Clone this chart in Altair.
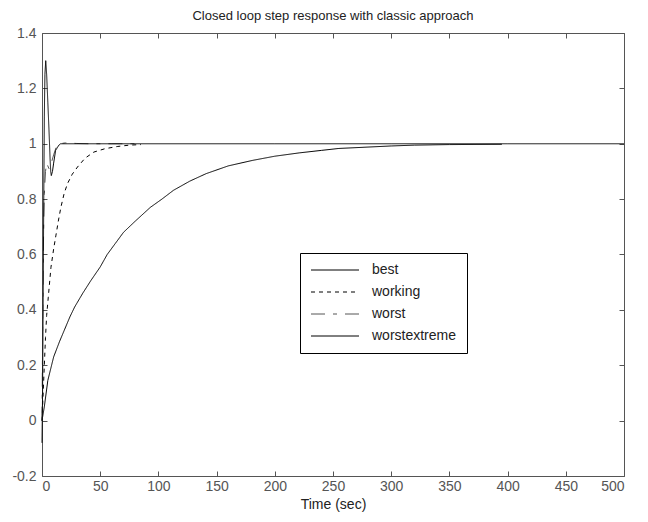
import altair as alt
import pandas as pd

series_names = ["best", "working", "worst", "worstextreme"]

best_t = [0, 2, 5, 10, 15, 19, 24, 28, 35, 42, 50, 56, 63, 70, 80, 93, 103, 113, 127, 141,
          160, 181, 200, 221, 240, 255, 280, 300, 320, 350, 395]
best_y = [0.0, 0.05, 0.145, 0.23, 0.285, 0.325, 0.375, 0.41, 0.46, 0.506, 0.555, 0.60, 0.64,
          0.68, 0.72, 0.77, 0.80, 0.832, 0.865, 0.892, 0.92, 0.94, 0.955, 0.967, 0.976, 0.983,
          0.988, 0.992, 0.995, 0.997, 0.998]

working_t = [0, 1, 2, 3, 4, 5.4, 7.7, 10, 12, 14, 16.2, 19, 21.9, 26, 30.5, 37, 44.6, 54, 64.6, 75, 85]
working_y = [0, 0.1, 0.2, 0.3, 0.38, 0.446, 0.554, 0.62, 0.67, 0.72, 0.77, 0.82, 0.856, 0.89,
             0.916, 0.948, 0.97, 0.982, 0.99, 0.995, 0.997]

worst_t = [0, 0.5, 1, 1.5, 2, 3, 4, 5, 6, 8, 10, 12, 15, 20, 30, 40, 50, 60, 70, 80]
worst_y = [0, 0.3, 0.55, 0.72, 0.82, 0.9, 0.93, 0.92, 0.91, 0.93, 0.96, 0.985, 1.0, 1.003,
           1.001, 1.0, 1.0, 1.0, 1.0, 1.0]

extreme_t = [0, 0.5, 1, 1.5, 2, 2.5, 3.2, 4, 5, 6, 7, 7.5, 8, 9, 10, 11.7, 14.5, 16, 20, 30,
             50, 100, 200, 300, 400, 500]
extreme_y = [-0.08, 0.1, 0.45, 0.8, 1.1, 1.25, 1.3, 1.25, 1.15, 1.05, 0.94, 0.90, 0.885, 0.9,
             0.93, 0.976, 0.995, 1.0, 1.0, 1.0, 1.0, 1.0, 1.0, 1.0, 1.0, 1.0]

x_ticks = [0, 50, 100, 150, 200, 250, 300, 350, 400, 450, 500]
y_ticks = [-0.2, 0, 0.2, 0.4, 0.6, 0.8, 1, 1.2, 1.4]

rows = []
for name, ts, ys in zip(series_names,
                        [best_t, working_t, worst_t, extreme_t],
                        [best_y, working_y, worst_y, extreme_y]):
    for i, (t, y) in enumerate(zip(ts, ys)):
        rows.append({"series": name, "t": t, "y": y, "order": i})
df = pd.DataFrame(rows)

FONT = "Liberation Sans"
LABEL_COLOR = "#555555"
FRAME_COLOR = "#555555"

xscale = alt.Scale(domain=[0, 500], nice=False, zero=False)
yscale = alt.Scale(domain=[-0.2, 1.4], nice=False, zero=False)

lines = alt.Chart(df).mark_line(strokeWidth=1).encode(
    x=alt.X("t:Q", scale=xscale,
            axis=alt.Axis(orient="bottom", values=x_ticks, title="Time (sec)", grid=False,
                          domain=False, tickSize=5, offset=-5, tickColor=FRAME_COLOR,
                          labelPadding=3, labelFontSize=14, labelColor=LABEL_COLOR,
                          labelFont=FONT, titleFont=FONT, titleFontSize=14,
                          titleFontWeight="normal", titleColor="#222222", titlePadding=4)),
    y=alt.Y("y:Q", scale=yscale,
            axis=alt.Axis(orient="left", values=y_ticks, title="", grid=False,
                          domain=False, tickSize=5, offset=-5, tickColor=FRAME_COLOR,
                          labelPadding=6, labelFontSize=14, labelColor=LABEL_COLOR,
                          labelFont=FONT, labelExpr="'' + datum.value")),
    color=alt.Color("series:N", sort=series_names,
                    scale=alt.Scale(domain=series_names,
                                    range=["black", "black", "#555555", "black"]),
                    legend=alt.Legend(title=None, orient="none", legendX=258, legendY=220,
                                      symbolType="M-1,0H7", symbolSize=144,
                                      symbolStrokeWidth=1, labelFont=FONT, labelFontSize=14,
                                      labelColor="#222222", labelOffset=48, padding=10,
                                      rowPadding=8, strokeColor="black", fillColor="white",
                                      cornerRadius=0)),
    strokeDash=alt.StrokeDash("series:N", sort=series_names,
                              scale=alt.Scale(domain=series_names,
                                              range=[[1, 0], [4, 4], [14, 8, 4, 8], [1, 0]]),
                              legend=None),
    order="order:Q",
)

frame_axes = alt.Chart(df).mark_line(opacity=0).encode(
    x=alt.X("t:Q", scale=xscale,
            axis=alt.Axis(orient="top", values=x_ticks, title="", grid=False, domain=False,
                          labels=False, tickSize=5, offset=-5, tickColor=FRAME_COLOR)),
    y=alt.Y("y:Q", scale=yscale,
            axis=alt.Axis(orient="right", values=y_ticks, title="", grid=False, domain=False,
                          labels=False, tickSize=5, offset=-5, tickColor=FRAME_COLOR)),
    detail="series:N",
    order="order:Q",
)

chart = alt.layer(lines, frame_axes).resolve_axis(x="independent", y="independent").properties(
    width=582,
    height=443,
    autosize=alt.AutoSizeParams(type="none"),
    padding={"left": 34, "top": 25, "right": 16, "bottom": 38},
    title=alt.Title("Closed loop step response with classic approach", font=FONT,
                    fontSize=13, fontWeight="normal", color="#222222", offset=3,
                    anchor="middle"),
).configure_view(stroke=FRAME_COLOR, strokeWidth=1)

chart.save("out.html", embed_options={"renderer": "svg", "actions": False})
